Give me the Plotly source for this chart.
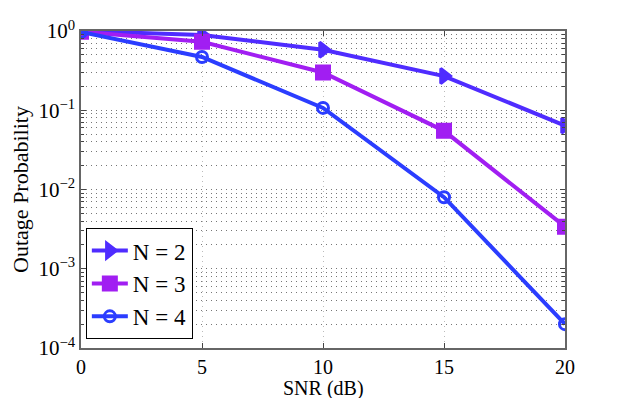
import plotly.graph_objects as go

snr = [0, 5, 10, 15, 20]
n2 = [1.0, 0.89, 0.58, 0.27, 0.064]
n3 = [0.98, 0.73, 0.30, 0.055, 0.0034]
n4 = [0.97, 0.47, 0.107, 0.008, 0.0002]

names = ['N = 2', 'N = 3', 'N = 4']
colors = ['#4f2cff', '#a11ef2', '#2b3dff']
symbols = ['triangle-right', 'square', 'circle-open']

ytick_vals = [1e-4, 1e-3, 1e-2, 1e-1, 1]
ytick_text = ['10<sup>−4</sup>', '10<sup>−3</sup>', '10<sup>−2</sup>', '10<sup>−1</sup>', '10<sup>0</sup>']

fig = go.Figure()
for name, ys, c, s in zip(names, [n2, n3, n4], colors, symbols):
    fig.add_trace(go.Scatter(
        x=snr, y=ys, name=name, mode='lines+markers',
        line=dict(color=c, width=4),
        marker=dict(symbol=s, size=13 if s != 'circle-open' else 11, color=c,
                    line=dict(color=c, width=3)),
    ))

serif = 'Liberation Serif, serif'

# page body has an 8px margin, so the figure is 8px smaller each way
fig.update_layout(
    width=615, height=390,
    margin=dict(l=73, r=58, t=23, b=50, autoexpand=False),
    plot_bgcolor='white', paper_bgcolor='white',
    font=dict(family=serif, size=21, color='black'),
    showlegend=True,
    legend=dict(x=0.01, y=0.028, xanchor='left', yanchor='bottom',
                bordercolor='black', borderwidth=1, bgcolor='white',
                font=dict(family=serif, size=23), tracegroupgap=0, itemwidth=36),
)
# x title as an annotation so it sits just under the tick labels
fig.add_annotation(text='SNR (dB)', x=0.5, y=0, xref='paper', yref='paper',
                   xanchor='center', yanchor='top', yshift=-27, showarrow=False,
                   font=dict(family=serif, size=20))
fig.update_xaxes(
    range=[0, 20], tickvals=[0, 5, 10, 15, 20],
    ticks='inside', ticklen=5, mirror='ticks', automargin=False,
    showline=True, linecolor='#666', linewidth=1.5,
    showgrid=True, gridcolor='#bbbbbb', griddash='1px,4px', gridwidth=1,
    zeroline=False, tickfont=dict(family=serif, size=20),
)
fig.update_yaxes(
    type='log', range=[-4, 0], tickvals=ytick_vals, ticktext=ytick_text,
    ticks='inside', ticklen=5, mirror='ticks', automargin=False,
    showline=True, linecolor='#666', linewidth=1.5,
    showgrid=True, gridcolor='#777', griddash='1px,4px', gridwidth=1,
    minor=dict(ticks='inside', ticklen=3, showgrid=True, gridcolor='#777',
               griddash='1px,4px', dtick='D1'),
    zeroline=False, tickfont=dict(family=serif, size=21),
    title=dict(text='Outage Probability', standoff=4, font=dict(family=serif, size=22)),
)

fig.write_html('out.html')
